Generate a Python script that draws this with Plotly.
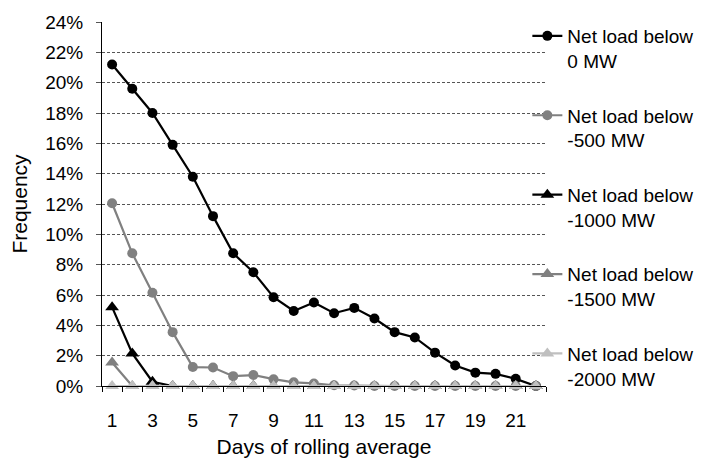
import plotly.graph_objects as go

days = list(range(1, 23))
below_0 = [21.2, 19.6, 18.0, 15.9, 13.8, 11.2, 8.75, 7.5, 5.85, 4.95, 5.5, 4.8, 5.15, 4.45,
           3.55, 3.2, 2.2, 1.35, 0.88, 0.8, 0.47, 0.0]
below_500 = [12.05, 8.75, 6.15, 3.55, 1.25, 1.22, 0.65, 0.72, 0.45, 0.24, 0.17, 0.05, 0.03,
             0, 0, 0, 0, 0, 0, 0, 0, 0]
below_1000 = [5.2, 2.15, 0.28, 0.0] + [0.0] * 18
below_1500 = [1.55, 0.0] + [0.0] * 20
below_2000 = [0.0] * 22

names = ["Net load below<br>0 MW", "Net load below<br>-500 MW", "Net load below<br>-1000 MW",
         "Net load below<br>-1500 MW", "Net load below<br>-2000 MW"]
series = [below_0, below_500, below_1000, below_1500, below_2000]
colors = ["#000000", "#808080", "#000000", "#808080", "#bfbfbf"]
symbols = ["circle", "circle", "triangle-up", "triangle-up", "triangle-up"]
sizes = [10, 10, 12, 12, 12]
x_labels = list(range(1, 23, 2))
y_ticks = list(range(0, 25, 2))

FONT = "Liberation Sans, Arial, sans-serif"

fig = go.Figure()
for i, (nm, ys, c, s, sz) in enumerate(zip(names, series, colors, symbols, sizes)):
    fig.add_trace(go.Scatter(
        x=days, y=ys, name=nm, mode="lines+markers",
        line=dict(color=c, width=2.2),
        marker=dict(color=c, symbol=s, size=sz),
        cliponaxis=False, legendgroup=f"g{i}",
    ))

# page body has an 8px margin, so the figure is drawn 8px smaller and shifted
fig.update_layout(
    width=702, height=452,
    margin=dict(l=94, r=164, t=14, b=74, autoexpand=False),
    paper_bgcolor="white", plot_bgcolor="white",
    font=dict(family=FONT, size=19, color="#000000"),
    showlegend=True,
    legend=dict(x=0.958, xanchor="left", y=1.0137, yanchor="top",
                font=dict(size=19), valign="top", tracegroupgap=27,
                bgcolor="rgba(0,0,0,0)", itemwidth=30, maxheight=440),
    xaxis=dict(range=[0.5, 22.5], tickmode="array", tickvals=x_labels,
               ticktext=[str(v) for v in x_labels], ticks="", showgrid=False,
               showline=True, linecolor="#000000", linewidth=1, zeroline=False,
               ticklabelstandoff=17, automargin=False,
               minor=dict(tickmode="array", tickvals=[v + 0.5 for v in range(0, 23)],
                          ticks="outside", ticklen=5, tickcolor="#000000", showgrid=False),
               title=dict(text="Days of rolling average", standoff=9,
                          font=dict(family=FONT, size=21, color="#000000")),
               tickfont=dict(size=19)),
    yaxis=dict(range=[0, 24], tickmode="array", tickvals=y_ticks,
               ticktext=[f"{v}%" for v in y_ticks], ticks="outside", ticklen=5,
               tickcolor="#555555", showgrid=True, gridcolor="#555555",
               griddash="3px,2px", gridwidth=1, showline=True, linecolor="#000000",
               linewidth=1, zeroline=False, ticklabelstandoff=9, automargin=False,
               title=dict(text="Frequency", standoff=21,
                          font=dict(family=FONT, size=21, color="#000000")),
               tickfont=dict(size=19)),
)

fig.write_html("out.html")
